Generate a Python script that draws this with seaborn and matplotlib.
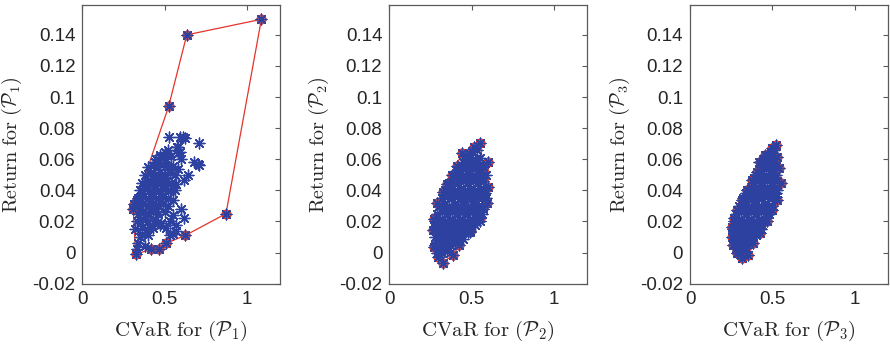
import numpy as np
import pandas as pd
import seaborn as sns
from matplotlib import pyplot as plt

# ---------------------------------------------------------------------------
# data
# panel 1: hull (in drawing order) and the cloud of portfolios
p1_hull_x = [1.087, 0.634, 0.524, 0.331, 0.315, 0.309, 0.323, 0.417, 0.465, 0.508, 0.624, 0.872, 1.087]
p1_hull_y = [0.150, 0.140, 0.094, 0.034, 0.031, 0.028, -0.001, 0.002, 0.002, 0.006, 0.011, 0.025, 0.150]

p1_cloud_x = [
    0.50, 0.52, 0.573,
    0.45, 0.48, 0.51, 0.54, 0.58, 0.60,
    0.40, 0.43, 0.46, 0.49, 0.52, 0.55, 0.58,
    0.38, 0.41, 0.44, 0.47, 0.50, 0.53, 0.56, 0.64, 0.62,
    0.36, 0.39, 0.42, 0.45, 0.48, 0.51, 0.54, 0.57,
    0.35, 0.38, 0.41, 0.44, 0.47, 0.50, 0.53, 0.56,
    0.34, 0.37, 0.40, 0.43, 0.46, 0.49, 0.52, 0.55,
    0.34, 0.37, 0.40, 0.43, 0.46, 0.49, 0.52,
    0.34, 0.37, 0.40, 0.43, 0.46, 0.50, 0.55, 0.60,
    0.33, 0.37, 0.40, 0.44, 0.48, 0.53, 0.62,
    0.32, 0.36, 0.39, 0.43, 0.51, 0.57,
    0.35, 0.40, 0.53, 0.34, 0.33, 0.38,
    0.524, 0.59, 0.61, 0.625, 0.711, 0.68, 0.70, 0.711, 0.583, 0.593,
    # in-between fill
    0.47, 0.50, 0.44, 0.53, 0.42, 0.48, 0.39, 0.45, 0.51, 0.36, 0.42,
    0.48, 0.35, 0.41, 0.47, 0.35, 0.41, 0.45, 0.38, 0.42, 0.47, 0.55, 0.57, 0.36,
]
p1_cloud_y = [
    0.065, 0.066, 0.068,
    0.060, 0.061, 0.060, 0.062, 0.064, 0.060,
    0.055, 0.056, 0.055, 0.057, 0.055, 0.056, 0.054,
    0.050, 0.051, 0.050, 0.052, 0.050, 0.051, 0.050, 0.050, 0.047,
    0.045, 0.046, 0.045, 0.046, 0.045, 0.046, 0.045, 0.044,
    0.040, 0.041, 0.040, 0.041, 0.040, 0.041, 0.040, 0.040,
    0.035, 0.036, 0.035, 0.036, 0.035, 0.036, 0.035, 0.034,
    0.030, 0.031, 0.030, 0.031, 0.030, 0.031, 0.030,
    0.025, 0.026, 0.025, 0.026, 0.025, 0.026, 0.024, 0.028,
    0.020, 0.021, 0.020, 0.021, 0.019, 0.020, 0.022,
    0.015, 0.016, 0.015, 0.016, 0.016, 0.014,
    0.010, 0.011, 0.011, 0.006, 0.002, 0.004,
    0.0745, 0.0745, 0.0745, 0.074, 0.0705, 0.058, 0.057, 0.0565, 0.068, 0.065,
    0.063, 0.058, 0.058, 0.053, 0.048, 0.048, 0.043, 0.043, 0.043, 0.038, 0.038,
    0.038, 0.033, 0.033, 0.033, 0.028, 0.028, 0.028, 0.023, 0.018, 0.018, 0.012, 0.018, 0.012,
]

# panel 2: boundary points (red) and the interior
p2_hull_x = [0.551, 0.516, 0.486, 0.440, 0.409, 0.379, 0.352, 0.324, 0.291, 0.271, 0.267, 0.271,
             0.298, 0.324, 0.389, 0.425, 0.490, 0.551, 0.591, 0.601, 0.601, 0.571, 0.551]
p2_hull_y = [0.0707, 0.0682, 0.0643, 0.0643, 0.0558, 0.0500, 0.0442, 0.0392, 0.0318, 0.0215, 0.0146, 0.0039,
             -0.0026, -0.0064, -0.0015, 0.0050, 0.0135, 0.0221, 0.0318, 0.0424, 0.0585, 0.0553, 0.0707]

p2_cloud_x = [
    0.29, 0.32, 0.35,
    0.28, 0.31, 0.34, 0.37, 0.40,
    0.28, 0.31, 0.34, 0.37, 0.40, 0.43, 0.45,
    0.28, 0.31, 0.34, 0.37, 0.40, 0.43, 0.46, 0.49,
    0.28, 0.31, 0.34, 0.37, 0.40, 0.43, 0.46, 0.49, 0.52,
    0.29, 0.32, 0.35, 0.38, 0.41, 0.44, 0.47, 0.50, 0.53, 0.56,
    0.30, 0.33, 0.36, 0.39, 0.42, 0.45, 0.48, 0.51, 0.54, 0.57,
    0.32, 0.35, 0.38, 0.41, 0.44, 0.47, 0.50, 0.53, 0.56, 0.59,
    0.34, 0.37, 0.40, 0.43, 0.46, 0.49, 0.52, 0.55, 0.58,
    0.36, 0.39, 0.42, 0.45, 0.48, 0.51, 0.54, 0.57, 0.59,
    0.39, 0.42, 0.45, 0.48, 0.51, 0.54, 0.57,
    0.42, 0.45, 0.48, 0.51, 0.54, 0.57,
    0.46, 0.49, 0.52, 0.55,
    0.50, 0.53,
    # in-between fill
    0.30, 0.33, 0.36, 0.30, 0.33, 0.36, 0.39, 0.42, 0.30, 0.33, 0.36, 0.39, 0.42, 0.45, 0.48,
    0.31, 0.34, 0.37, 0.40, 0.43, 0.46, 0.49, 0.52, 0.55, 0.33, 0.36, 0.39, 0.42, 0.45, 0.48,
    0.51, 0.54, 0.57, 0.37, 0.40, 0.43, 0.46, 0.49, 0.52, 0.55, 0.58, 0.41, 0.44, 0.47, 0.50,
    0.53, 0.56, 0.45, 0.48, 0.51, 0.54,
]
p2_cloud_y = [
    0.000, 0.000, 0.001,
    0.005, 0.005, 0.006, 0.005, 0.006,
    0.010, 0.011, 0.010, 0.011, 0.010, 0.011, 0.009,
    0.015, 0.016, 0.015, 0.016, 0.015, 0.016, 0.015, 0.014,
    0.020, 0.021, 0.020, 0.021, 0.020, 0.021, 0.020, 0.021, 0.020,
    0.025, 0.026, 0.025, 0.026, 0.025, 0.026, 0.025, 0.026, 0.025, 0.025,
    0.030, 0.031, 0.030, 0.031, 0.030, 0.031, 0.030, 0.031, 0.030, 0.029,
    0.035, 0.036, 0.035, 0.036, 0.035, 0.036, 0.035, 0.036, 0.035, 0.035,
    0.040, 0.041, 0.040, 0.041, 0.040, 0.041, 0.040, 0.041, 0.040,
    0.045, 0.046, 0.045, 0.046, 0.045, 0.046, 0.045, 0.046, 0.050,
    0.050, 0.051, 0.050, 0.051, 0.050, 0.051, 0.050,
    0.055, 0.056, 0.055, 0.056, 0.055, 0.056,
    0.060, 0.061, 0.060, 0.061,
    0.065, 0.066,
    0.003, 0.003, 0.003, 0.008, 0.008, 0.008, 0.008, 0.008, 0.013, 0.013, 0.013, 0.013, 0.013, 0.013, 0.013,
    0.018, 0.018, 0.018, 0.018, 0.018, 0.018, 0.018, 0.018, 0.020, 0.028, 0.028, 0.028, 0.028, 0.028, 0.028,
    0.028, 0.028, 0.028, 0.038, 0.038, 0.038, 0.038, 0.038, 0.038, 0.038, 0.038, 0.048, 0.048, 0.048, 0.048,
    0.048, 0.048, 0.058, 0.058, 0.058, 0.058,
]

# panel 3
p3_hull_x = [0.523, 0.495, 0.456, 0.426, 0.406, 0.375, 0.345, 0.314, 0.284, 0.264, 0.254, 0.254,
             0.260, 0.284, 0.314, 0.355, 0.385, 0.426, 0.467, 0.497, 0.528, 0.552, 0.538, 0.528, 0.523]
p3_hull_y = [0.0693, 0.0671, 0.0628, 0.0585, 0.0520, 0.0468, 0.0403, 0.0339, 0.0275, 0.0221, 0.0167, 0.0103,
             0.0050, -0.0004, -0.0036, -0.0015, 0.0060, 0.0125, 0.0200, 0.0275, 0.0339, 0.0446, 0.0543, 0.0617, 0.0693]

p3_cloud_x = [
    0.29, 0.32,
    0.27, 0.30, 0.33, 0.36,
    0.26, 0.29, 0.32, 0.35, 0.38, 0.40,
    0.26, 0.29, 0.32, 0.35, 0.38, 0.41, 0.43,
    0.27, 0.30, 0.33, 0.36, 0.39, 0.42, 0.45,
    0.28, 0.31, 0.34, 0.37, 0.40, 0.43, 0.46, 0.48,
    0.30, 0.33, 0.36, 0.39, 0.42, 0.45, 0.48, 0.50,
    0.32, 0.35, 0.38, 0.41, 0.44, 0.47, 0.50, 0.52,
    0.35, 0.38, 0.41, 0.44, 0.47, 0.50, 0.53,
    0.38, 0.41, 0.44, 0.47, 0.50, 0.53,
    0.40, 0.43, 0.46, 0.49, 0.52,
    0.43, 0.46, 0.49, 0.52,
    0.45, 0.48, 0.51,
    0.49, 0.51,
    # in-between fill
    0.28, 0.31, 0.34, 0.28, 0.31, 0.34, 0.37, 0.27, 0.30, 0.33, 0.36, 0.39, 0.42,
    0.29, 0.32, 0.35, 0.38, 0.41, 0.44, 0.31, 0.34, 0.37, 0.40, 0.43, 0.46, 0.49,
    0.34, 0.37, 0.40, 0.43, 0.46, 0.49, 0.52, 0.39, 0.42, 0.45, 0.48, 0.51,
    0.42, 0.45, 0.48, 0.51, 0.47, 0.50,
]
p3_cloud_y = [
    0.000, 0.001,
    0.005, 0.006, 0.005, 0.006,
    0.010, 0.011, 0.010, 0.011, 0.010, 0.011,
    0.015, 0.016, 0.015, 0.016, 0.015, 0.016, 0.015,
    0.020, 0.021, 0.020, 0.021, 0.020, 0.021, 0.020,
    0.025, 0.026, 0.025, 0.026, 0.025, 0.026, 0.025, 0.025,
    0.030, 0.031, 0.030, 0.031, 0.030, 0.031, 0.030, 0.030,
    0.035, 0.036, 0.035, 0.036, 0.035, 0.036, 0.035, 0.036,
    0.040, 0.041, 0.040, 0.041, 0.040, 0.041, 0.040,
    0.045, 0.046, 0.045, 0.046, 0.045, 0.046,
    0.050, 0.051, 0.050, 0.051, 0.050,
    0.055, 0.056, 0.055, 0.056,
    0.060, 0.061, 0.060,
    0.065, 0.066,
    0.003, 0.003, 0.003, 0.008, 0.008, 0.008, 0.008, 0.013, 0.013, 0.013, 0.013, 0.013, 0.013,
    0.018, 0.018, 0.018, 0.018, 0.018, 0.018, 0.028, 0.028, 0.028, 0.028, 0.028, 0.028, 0.028,
    0.038, 0.038, 0.038, 0.038, 0.038, 0.038, 0.038, 0.048, 0.048, 0.048, 0.048, 0.048,
    0.058, 0.058, 0.058, 0.058, 0.063, 0.063,
]

y_ticks = [-0.02, 0, 0.02, 0.04, 0.06, 0.08, 0.1, 0.12, 0.14]
y_tick_labels = ['-0.02', '0', '0.02', '0.04', '0.06', '0.08', '0.1', '0.12', '0.14']
x_ticks = [0, 0.5, 1]
x_tick_labels = ['0', '0.5', '1']

# ---------------------------------------------------------------------------
sns.set_style('white')
plt.rcParams['font.family'] = ['Liberation Sans', 'DejaVu Sans']
plt.rcParams['mathtext.fontset'] = 'cm'

blue = '#2d42a0'
red = '#e5342a'
axis_grey = '#5a5a5a'

panels = [
    (p1_hull_x, p1_hull_y, p1_cloud_x, p1_cloud_y, '1'),
    (p2_hull_x, p2_hull_y, p2_cloud_x, p2_cloud_y, '2'),
    (p3_hull_x, p3_hull_y, p3_cloud_x, p3_cloud_y, '3'),
]
lefts = [0.0925, 0.4374, 0.7753]

fig = plt.figure(figsize=(8.9, 3.47), dpi=100)

for left, (hx, hy, cx, cy, idx) in zip(lefts, panels):
    ax = fig.add_axes([left, 0.1824, 0.2221, 0.8023])

    hull = pd.DataFrame({'x': hx, 'y': hy})
    cloud = pd.DataFrame({'x': cx + hx[:-1], 'y': cy + hy[:-1]})

    sns.lineplot(data=hull, x='x', y='y', sort=False, estimator=None, color=red,
                 linewidth=0.9, ax=ax, zorder=2)
    ax.plot(hx[:-1], hy[:-1], 'o', ms=6.5, mfc='#e0605a', mec=red, mew=0.8, zorder=3, linestyle='none')
    sns.scatterplot(data=cloud, x='x', y='y', marker=(8, 2, 0), s=60, color=blue,
                    edgecolor=blue, linewidth=1.0, ax=ax, zorder=4)

    ax.set_xlim(0, 1.2)
    ax.set_ylim(-0.02, 0.159)
    ax.set_xticks(x_ticks)
    ax.set_xticklabels(x_tick_labels)
    ax.set_yticks(y_ticks)
    ax.set_yticklabels(y_tick_labels)
    ax.tick_params(direction='in', length=3.5, width=0.8, color=axis_grey, labelsize=13.5,
                   top=True, right=True, pad=5)
    for sp in ax.spines.values():
        sp.set_color(axis_grey)
        sp.set_linewidth(0.9)

    ax.set_xlabel(r'$\mathrm{CVaR\ for\ }(\mathcal{P}_' + idx + ')$', fontsize=15, labelpad=8)
    ax.set_ylabel(r'$\mathrm{Return\ for\ }(\mathcal{P}_' + idx + ')$', fontsize=14.5, labelpad=6)

fig.savefig('out.png', dpi=100)
